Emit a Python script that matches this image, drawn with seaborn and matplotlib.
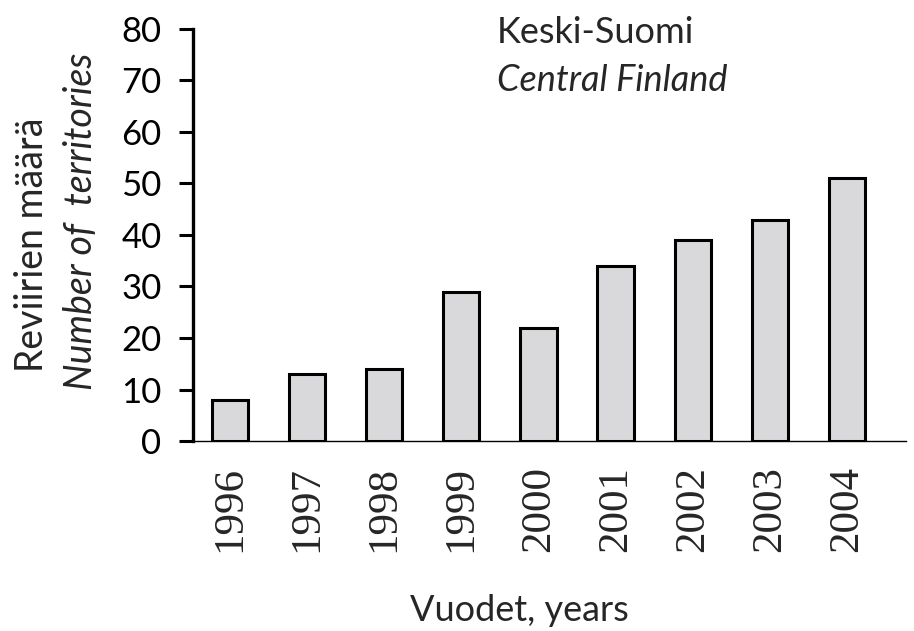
import matplotlib
matplotlib.use("Agg")
import matplotlib.pyplot as plt
import seaborn as sns
import pandas as pd

years = ["1996", "1997", "1998", "1999", "2000", "2001", "2002", "2003", "2004"]
territories = [8, 13, 14, 29, 22, 34, 39, 43, 51]
yticks = [0, 10, 20, 30, 40, 50, 60, 70, 80]

sns.set_theme(style="white")
plt.rcParams['font.family'] = ['Lato', 'DejaVu Sans']

df = pd.DataFrame({"year": years, "n": territories})

fig = plt.figure(figsize=(9.14, 6.31), dpi=100)
ax = fig.add_axes([0.2117, 0.3011, 0.7793, 0.653])
sns.barplot(data=df, x="year", y="n", ax=ax, color="#d9d9db", saturation=1,
            width=0.47, edgecolor="black", linewidth=2.2)

ax.set_xlim(-0.473, 8.764)
ax.set_ylim(0, 80)
ax.set_yticks(yticks)
ax.set_yticklabels([str(v) for v in yticks], fontsize=25)
ax.set_xticks(range(len(years)))
ax.set_xticklabels(years, rotation=90, fontsize=31, family=['Liberation Serif'])
ax.tick_params(axis='y', direction='out', length=10, width=2.2, pad=13, left=True, colors='black')
ax.tick_params(axis='x', length=0, pad=18)
for s in ['top', 'right']:
    ax.spines[s].set_visible(False)
ax.spines['left'].set_linewidth(2.4)
ax.spines['left'].set_color('black')
ax.spines['bottom'].set_linewidth(1.0)
ax.spines['bottom'].set_color('black')
ax.set_xlabel("")
ax.set_ylabel("")

fig.text(0.568, 0.032, "Vuodet, years", ha='center', va='center', fontsize=26)
fig.text(0.035, 0.612, "Reviirien määrä", rotation=90, ha='center', va='center', fontsize=27)
fig.text(0.089, 0.649, "Number of  territories", rotation=90, ha='center', va='center',
         fontsize=27, style='italic')
fig.text(0.544, 0.9319, "Keski-Suomi", ha='left', va='baseline', fontsize=26)
fig.text(0.544, 0.8558, "Central Finland", ha='left', va='baseline', fontsize=26, style='italic')

fig.savefig("out.png", dpi=100)
